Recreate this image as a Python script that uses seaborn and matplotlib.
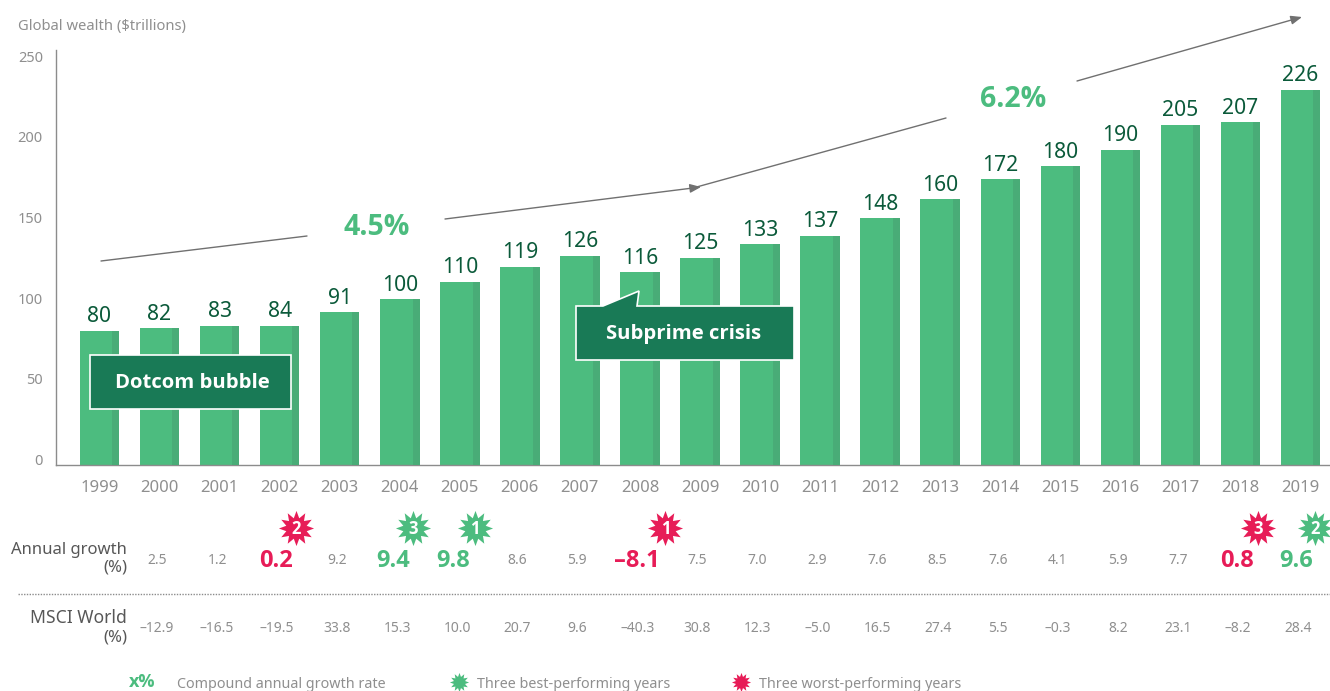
import matplotlib
matplotlib.use("Agg")
import matplotlib.pyplot as plt
from matplotlib.patches import Polygon
from matplotlib.path import Path
import numpy as np
import pandas as pd
import seaborn as sns

years = list(range(1999, 2020))
wealth = [80, 82, 83, 84, 91, 100, 110, 119, 126, 116, 125, 133, 137, 148, 160, 172, 180, 190, 205, 207, 226]
wealth_drawn = [81, 82.5, 84, 84, 92, 100, 110.5, 119.5, 126, 116, 125, 133, 138, 148.5, 160, 172, 180, 190, 205, 206.5, 226]
annual_growth = [2.5, 1.2, 0.2, 9.2, 9.4, 9.8, 8.6, 5.9, -8.1, 7.5, 7.0, 2.9, 7.6, 8.5, 7.6, 4.1, 5.9, 7.7, 0.8, 9.6]
msci_world = [-12.9, -16.5, -19.5, 33.8, 15.3, 10.0, 20.7, 9.6, -40.3, 30.8, 12.3, -5.0, 16.5, 27.4, 5.5, -0.3, 8.2, 23.1, -8.2, 28.4]
best_years = {4: 3, 5: 1, 19: 2}
worst_years = {2: 2, 8: 1, 18: 3}
y_ticks = [0, 50, 100, 150, 200, 250]

GREEN = "#4CBC7F"
SHADE = "#49AC77"
DARK = "#197A56"
LABEL = "#0B5A3A"
RED = "#E71C57"
GREY = "#8F8F8F"
TEXT = "#575757"
BOLD = ['Open Sans', 'Lato', 'DejaVu Sans']

sns.set_theme(style="white")
plt.rcParams['font.family'] = ['Noto Sans', 'DejaVu Sans']

W, H = 1330, 691
fig = plt.figure(figsize=(W / 100, H / 100), dpi=100)

# main axes: spine at x=56, baseline y=465, top y=50
ax = fig.add_axes([56 / W, 1 - 465 / H, (W - 56) / W, 415 / H])
df = pd.DataFrame({"year": years, "wealth": wealth_drawn})
sns.barplot(data=df, x="year", y="wealth", color=GREEN, saturation=1, width=0.658, linewidth=0, ax=ax)
# darker strip on right side of each bar
ax.bar(np.arange(len(years)) + 0.271, wealth_drawn, width=0.116, color=SHADE, linewidth=0, zorder=3)
ax.set_xlim(-0.724, 20.49)
ax.set_ylim(0, 250)
ax.set_xlabel("")
ax.set_ylabel("")
for s in ["top", "right"]:
    ax.spines[s].set_visible(False)
for s in ["left", "bottom"]:
    ax.spines[s].set_color("#8C8C8C")
    ax.spines[s].set_linewidth(1)
# the reference's tick labels sit a little off the true scale
ax.set_yticks(np.array(y_ticks) * 0.971 + 3.5, labels=y_ticks)
ax.tick_params(axis="y", length=0, pad=9.5, labelsize=10.5, labelcolor=GREY)
ax.tick_params(axis="x", length=0, pad=11, labelsize=12, labelcolor=GREY)

for i, v in enumerate(wealth):
    ax.annotate(str(v), (i, wealth_drawn[i]), xytext=(0, 2.5), textcoords="offset points",
                ha="center", va="bottom", fontsize=15.2, color=LABEL)

# overlay in pixel coordinates for the annotations
ov = fig.add_axes([0, 0, 1, 1], zorder=5)
ov.set_xlim(0, W)
ov.set_ylim(H, 0)
ov.axis("off")

ov.text(18, 26, "Global wealth ($trillions)", fontsize=10.6, color=GREY, va="center")

# growth arrows
arrow = dict(arrowstyle="-|>,head_length=0.55,head_width=0.22", color="#707070", lw=1, shrinkA=0, shrinkB=0)
ov.plot([101, 307], [261, 236], color="#707070", lw=1)
ov.annotate("", xy=(701, 187), xytext=(445, 219), arrowprops=arrow)
ov.plot([693, 946], [188, 118], color="#707070", lw=1)
ov.annotate("", xy=(1302, 17), xytext=(1077, 81), arrowprops=arrow)
ov.text(377, 227, "4.5%", fontsize=20.5, fontweight="bold", family=BOLD, color=GREEN, ha="center", va="center")
ov.text(1013, 99, "6.2%", fontsize=20.5, fontweight="bold", family=BOLD, color=GREEN, ha="center", va="center")

# callouts
ov.add_patch(Polygon([(90, 355), (291, 355), (291, 409), (90, 409)], fc=DARK, ec="white", lw=1.2))
ov.text(192, 383, "Dotcom bubble", fontsize=14.6, fontweight="bold", family=BOLD, color="white", ha="center", va="center")
ov.add_patch(Polygon([(576, 306), (603, 306), (639, 291), (637, 306), (794, 306), (794, 360), (576, 360)],
                     fc=DARK, ec="white", lw=1.2))
ov.text(684, 334, "Subprime crisis", fontsize=14.6, fontweight="bold", family=BOLD, color="white", ha="center", va="center")

# table rows
ov.text(127, 550, "Annual growth", fontsize=12, color=TEXT, ha="right", va="center")
ov.text(127, 568, "(%)", fontsize=12, color=TEXT, ha="right", va="center")
ov.text(127, 618, "MSCI World", fontsize=12.6, color=TEXT, ha="right", va="center")
ov.text(127, 637, "(%)", fontsize=12, color=TEXT, ha="right", va="center")
ov.plot([18, W], [594, 594], color="#8C8C8C", lw=1, ls=(0, (1, 1)))


def fmt(v):
    return f"{v:.1f}".replace("-", "\u2013")


star = Path.unit_regular_star(12, innerCircle=0.6)
star_shift = {2: 19, 4: 16, 5: 18, 8: 28, 18: 20, 19: 17}
bold_shift = {2: -1, 4: -4, 5: -4, 8: -1, 18: -1, 19: -2}
for i, (g, m) in enumerate(zip(annual_growth, msci_world)):
    x = 157 + 60.05 * i
    ov.text(x, 629, fmt(m), fontsize=10, color=GREY, ha="center", va="center")
    if i in best_years or i in worst_years:
        col = GREEN if i in best_years else RED
        rank = best_years.get(i, worst_years.get(i))
        ov.text(x + bold_shift[i], 561, fmt(g), fontsize=17, fontweight="bold", family=BOLD, color=col, ha="center", va="center")
        sx = x + star_shift[i]
        ov.scatter([sx], [528], marker=star, s=640, color=col, linewidths=0, clip_on=False)
        ov.text(sx, 529, str(rank), fontsize=12, fontweight="bold", family=BOLD, color="white", ha="center", va="center")
    else:
        ov.text(x, 561, fmt(g), fontsize=10, color=GREY, ha="center", va="center")

# legend row
ov.text(142, 682, "x%", fontsize=13, fontweight="bold", family=BOLD, color=GREEN, ha="center", va="center")
ov.text(177, 684, "Compound annual growth rate", fontsize=10.3, color=GREY, va="center")
ov.scatter([459], [682], marker=star, s=190, color=GREEN, linewidths=0)
ov.text(477, 684, "Three best-performing years", fontsize=10.3, color=GREY, va="center")
ov.scatter([741], [682], marker=star, s=190, color=RED, linewidths=0)
ov.text(759, 684, "Three worst-performing years", fontsize=10.3, color=GREY, va="center")

fig.savefig("out.png", dpi=100)
